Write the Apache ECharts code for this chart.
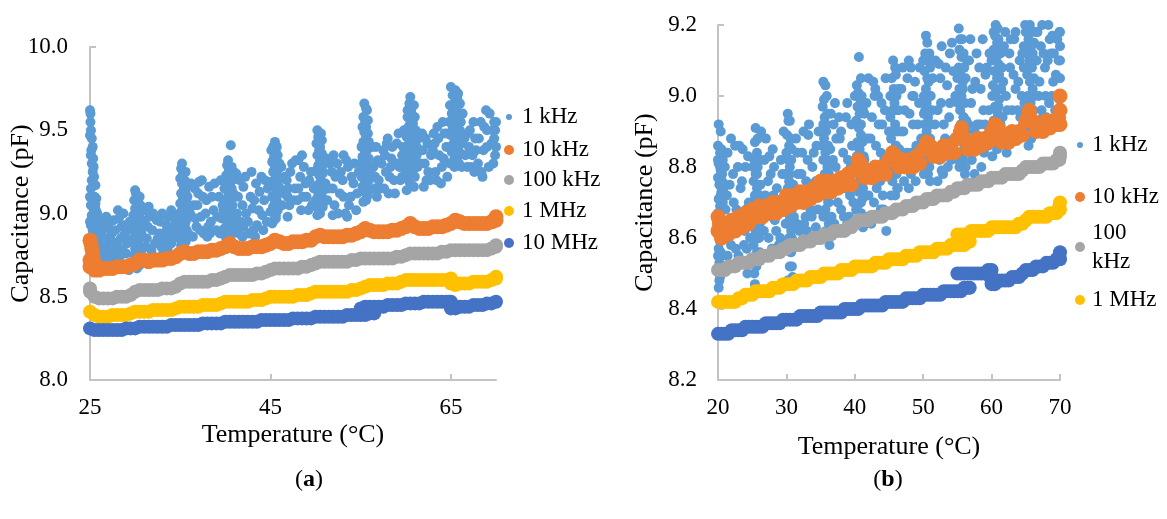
<!DOCTYPE html>
<html><head><meta charset="utf-8">
<script src="https://cdn.jsdelivr.net/npm/echarts@6/dist/echarts.min.js"></script>
<style>html,body{margin:0;padding:0;background:#fff}#c{width:1167px;height:519px}</style>
</head><body><div id="c"></div>
<script>
// ---------- data ----------
const seriesNames = ['1 kHz', '10 kHz', '100 kHz', '1 MHz', '10 MHz'];
const xTicksA = [25, 45, 65];

// panel (a) temperatures for the narrow bands
const tA = [25,25.5,26,26.5,27,27.5,28,28.5,29,29.5,
  30,30.5,31,31.5,32,32.5,33,33.5,34,34.5,
  35,35.5,36,36.5,37,37.5,38,38.5,39,39.5,
  40,40.5,41,41.5,42,42.5,43,43.5,44,44.5,
  45,45.5,46,46.5,47,47.5,48,48.5,49,49.5,
  50,50.5,51,51.5,52,52.5,53,53.5,54,54.5,
  55,55.5,56,56.5,57,57.5,58,58.5,59,59.5,
  60,60.5,61,61.5,62,62.5,63,63.5,64,64.5,
  65,65.5,66,66.5,67,67.5,68,68.5,69,69.5,70];
const c10kA = [8.68,8.66,8.66,8.67,8.67,8.67,8.68,8.68,8.68,8.69,
  8.70,8.72,8.72,8.71,8.72,8.72,8.72,8.73,8.73,8.74,
  8.76,8.77,8.76,8.76,8.77,8.77,8.77,8.78,8.78,8.79,
  8.80,8.82,8.80,8.79,8.79,8.79,8.80,8.80,8.80,8.81,
  8.82,8.84,8.83,8.82,8.82,8.83,8.83,8.83,8.84,8.84,
  8.86,8.87,8.86,8.86,8.86,8.86,8.86,8.87,8.87,8.88,
  8.89,8.91,8.90,8.89,8.89,8.89,8.89,8.90,8.90,8.91,
  8.92,8.94,8.92,8.91,8.91,8.91,8.92,8.92,8.92,8.93,
  8.94,8.96,8.95,8.94,8.94,8.94,8.94,8.94,8.94,8.95,8.96];
const c10kAExtra = [[25,8.84],[25.1,8.82],[25.2,8.79],[25.3,8.76],[25.4,8.72],[25.6,8.69],[25,8.72],[25.2,8.70],[70,8.98]];
const c100kA = [8.53,8.50,8.49,8.49,8.49,8.49,8.50,8.50,8.50,8.51,
  8.53,8.54,8.54,8.54,8.54,8.54,8.55,8.55,8.55,8.56,
  8.58,8.59,8.59,8.59,8.59,8.59,8.59,8.60,8.60,8.61,
  8.62,8.63,8.63,8.63,8.63,8.63,8.63,8.64,8.64,8.65,
  8.66,8.67,8.67,8.67,8.67,8.67,8.67,8.68,8.68,8.69,
  8.70,8.71,8.71,8.71,8.71,8.71,8.71,8.71,8.72,8.72,
  8.73,8.73,8.73,8.73,8.73,8.73,8.73,8.73,8.74,8.74,
  8.75,8.76,8.76,8.76,8.76,8.76,8.76,8.76,8.77,8.77,
  8.78,8.78,8.78,8.78,8.78,8.78,8.78,8.78,8.78,8.79,8.80];
const c100kAExtra = [[25,8.55],[70,8.81]];
const c1MA = [8.41,8.39,8.38,8.38,8.38,8.39,8.39,8.39,8.39,8.40,
  8.41,8.41,8.41,8.41,8.42,8.42,8.42,8.42,8.42,8.43,
  8.44,8.44,8.44,8.44,8.44,8.45,8.45,8.45,8.45,8.46,
  8.47,8.47,8.47,8.47,8.47,8.47,8.48,8.48,8.48,8.49,
  8.50,8.50,8.50,8.50,8.50,8.50,8.51,8.51,8.51,8.52,
  8.53,8.53,8.53,8.53,8.53,8.53,8.53,8.53,8.54,8.54,
  8.55,8.56,8.57,8.57,8.57,8.57,8.58,8.58,8.58,8.59,
  8.60,8.60,8.60,8.60,8.60,8.60,8.60,8.60,8.60,8.60,
  8.58,8.57,8.58,8.58,8.58,8.59,8.59,8.59,8.59,8.60,8.61];
const c1MAExtra = [[65,8.61],[64.8,8.60],[70,8.62]];
const c10MA = [8.31,8.30,8.30,8.30,8.30,8.30,8.30,8.30,8.31,8.31,
  8.31,8.32,8.32,8.32,8.32,8.32,8.32,8.32,8.33,8.33,
  8.33,8.33,8.33,8.33,8.33,8.34,8.34,8.34,8.34,8.34,
  8.35,8.35,8.35,8.35,8.35,8.35,8.35,8.35,8.36,8.36,
  8.36,8.36,8.36,8.36,8.36,8.37,8.37,8.37,8.37,8.37,
  8.38,8.38,8.38,8.38,8.38,8.38,8.38,8.39,8.39,8.39,
  8.43,8.44,8.44,8.44,8.44,8.44,8.45,8.45,8.45,8.45,
  8.46,8.46,8.46,8.46,8.47,8.47,8.47,8.47,8.47,8.47,
  8.43,8.43,8.44,8.44,8.44,8.45,8.45,8.45,8.46,8.46,8.47];
const c10MAExtra = [[55,8.39],[55.5,8.39],[56,8.40],[56.5,8.40],[64.8,8.47],[65,8.47]];
// panel (a) 1 kHz scattered points [temperature, capacitance]
const c1kA = [
  [25.0,9.62],[25.05,9.60],[25.1,9.50],[25.0,9.47],[25.2,9.45],[25.3,9.40],[25.15,9.38],[25.35,9.33],[25.2,9.30],[25.4,9.28],
  [25.45,9.22],[25.6,9.17],[25.5,9.10],[25.7,9.09],[25.3,9.07],[25.1,9.05],[25.6,9.03],[25.4,9.00],[25.2,8.98],[25.5,8.96],
  [25.1,8.93],[25.7,8.92],[25.3,8.90],[25.5,8.88],[25.2,8.86],[25.6,8.85],[25.1,8.82],[25.4,8.80],[25.8,8.79],[25.3,8.77],
  [25.6,8.75],[25.2,8.73],[25.0,8.70],[25.5,8.72],[25.9,8.84],[26.0,8.96],[25.8,9.00],[25.0,9.10],[25.0,8.95],[25.0,8.80],
  [26.3,8.86],[26.6,8.80],[26.9,8.92],[27.2,8.95],[27.0,8.75],[27.5,8.83],[27.8,8.90],[27.9,8.72],[28.2,8.97],[28.4,8.85],
  [28.6,8.78],[28.9,8.93],[29.1,8.82],[29.3,8.66],[26.1,8.72],[27.4,8.88],[28.0,8.81],[26.5,8.94],[28.1,9.02],
  [30.0,9.14],[30.1,9.12],[29.9,9.08],[30.2,9.06],[30.0,9.03],[30.3,9.01],[29.8,8.99],[30.1,8.97],[30.4,8.95],[29.9,8.93],
  [30.2,8.91],[30.0,8.89],[30.3,8.87],[29.8,8.85],[30.1,8.83],[30.4,8.81],[30.0,8.79],[30.2,8.77],[29.9,8.75],[30.3,8.73],
  [30.1,8.71],[30.5,9.03],[30.6,8.90],[30.7,8.78],
  [31.0,8.95],[31.3,8.85],[31.6,8.98],[31.9,8.90],[32.2,8.82],[32.4,8.96],[32.7,8.88],[33.0,9.00],[33.2,8.84],[33.5,8.93],
  [33.8,8.87],[34.0,9.02],[34.3,8.91],[31.5,9.04],[32.9,8.80],[34.5,8.95],
  [35.2,9.30],[35.1,9.27],[35.3,9.24],[35.0,9.21],[35.2,9.18],[35.4,9.15],[35.1,9.12],[35.3,9.09],[35.0,9.06],[35.5,9.04],
  [35.2,9.02],[35.4,8.99],[35.1,8.97],[35.6,8.95],[35.3,8.93],[35.0,8.91],[35.5,8.89],[35.2,8.87],[35.7,8.85],[35.4,8.83],
  [35.1,8.81],[35.8,9.10],[35.9,8.98],[34.9,9.00],
  [36.2,9.18],[36.5,9.05],[36.8,8.92],[37.0,9.12],[37.3,8.98],[37.6,8.88],[37.9,9.08],[38.2,9.16],[38.4,8.95],[38.7,9.02],
  [39.0,8.90],[39.3,9.10],[39.6,8.97],[36.4,8.86],[38.0,8.86],[37.1,9.19],
  [40.6,9.41],[40.3,9.32],[40.2,9.29],[40.4,9.26],[40.1,9.23],[40.3,9.20],[40.5,9.17],[40.2,9.14],[40.4,9.11],[40.0,9.08],
  [40.3,9.05],[40.6,9.03],[40.1,9.00],[40.4,8.98],[40.2,8.95],[40.7,8.93],[39.9,8.91],[40.3,8.89],[40.5,8.87],[40.1,8.85],
  [40.8,9.10],[39.8,9.02],
  [41.2,9.24],[41.4,9.10],[41.7,8.95],[42.0,9.16],[42.3,9.00],[42.6,8.88],[42.9,9.25],[43.2,9.08],[43.5,8.93],[43.8,9.13],
  [44.1,8.99],[44.4,9.20],[41.9,8.86],[43.0,9.03],[44.2,8.90],
  [45.5,9.43],[45.3,9.40],[45.6,9.37],[45.4,9.34],[45.2,9.31],[45.5,9.28],[45.3,9.25],[45.6,9.22],[45.1,9.19],[45.4,9.16],
  [45.7,9.13],[45.2,9.10],[45.5,9.07],[45.3,9.04],[45.0,9.01],[45.6,8.99],[45.4,8.96],[45.2,8.94],[45.8,9.20],[45.9,9.05],
  [46.2,9.28],[46.5,9.12],[46.8,9.20],[47.1,9.05],[47.4,9.30],[47.7,9.15],[48.0,9.08],[48.3,9.22],[48.6,9.10],[48.9,9.18],
  [49.2,9.02],[49.5,9.25],[46.9,8.98],[48.1,9.32],
  [50.2,9.50],[50.3,9.46],[50.1,9.42],[50.4,9.38],[50.2,9.35],[50.5,9.32],[50.3,9.29],[50.1,9.26],[50.4,9.23],[50.6,9.20],
  [50.2,9.17],[50.5,9.14],[50.3,9.11],[50.0,9.08],[50.6,9.05],[50.4,9.02],[50.2,8.99],[50.7,9.10],[50.8,9.25],
  [51.2,9.33],[51.5,9.15],[51.8,9.25],[52.1,9.05],[52.4,9.30],[52.7,9.12],[53.0,9.20],[53.3,9.00],[53.6,9.28],[53.9,9.10],
  [54.2,9.18],[54.5,9.02],[51.9,8.99],[53.1,9.35],
  [55.4,9.66],[55.6,9.63],[55.3,9.58],[55.5,9.55],[55.2,9.52],[55.4,9.49],[55.6,9.46],[55.3,9.43],[55.1,9.40],[55.5,9.37],
  [55.2,9.34],[55.4,9.31],[55.6,9.28],[55.3,9.25],[55.1,9.22],[55.5,9.19],[55.2,9.16],[55.4,9.13],[55.7,9.10],[55.3,9.07],
  [55.8,9.30],[55.9,9.20],
  [56.3,9.40],[56.6,9.22],[56.9,9.32],[57.2,9.15],[57.5,9.38],[57.8,9.25],[58.1,9.12],[58.4,9.33],[58.7,9.20],[59.0,9.42],
  [59.3,9.28],[56.8,9.10],[58.0,9.45],[59.6,9.35],
  [60.5,9.70],[60.4,9.66],[60.6,9.62],[60.2,9.58],[60.5,9.55],[60.3,9.52],[60.7,9.49],[60.1,9.46],[60.4,9.43],[60.6,9.40],
  [60.2,9.37],[60.5,9.34],[60.8,9.31],[60.3,9.28],[60.0,9.25],[60.6,9.22],[60.4,9.19],[60.9,9.16],[59.8,9.50],[61.0,9.45],
  [61.2,9.35],[60.1,9.14],[59.9,9.30],
  [61.8,9.48],[62.1,9.30],[62.4,9.42],[62.7,9.20],[63.0,9.38],[63.3,9.25],[63.6,9.45],[63.9,9.18],[64.2,9.33],[64.5,9.40],
  [62.0,9.16],[63.5,9.52],
  [65.0,9.76],[65.5,9.74],[65.2,9.71],[65.7,9.69],[65.3,9.66],[65.6,9.63],[65.1,9.60],[65.4,9.58],[65.8,9.55],[65.2,9.52],
  [65.5,9.50],[65.0,9.47],[65.7,9.45],[65.3,9.42],[65.6,9.40],[65.1,9.37],[65.9,9.35],[65.4,9.33],[64.9,9.30],[66.0,9.50],
  [66.2,9.42],[64.8,9.55],
  [66.6,9.35],[66.9,9.48],[67.2,9.28],[67.5,9.55],[67.8,9.38],[68.1,9.45],[68.4,9.25],[68.7,9.52],[69.0,9.40],[69.3,9.60],
  [69.6,9.50],[69.8,9.45],[69.9,9.35],[70.0,9.55],[69.7,9.30],[68.9,9.62],[67.0,9.40]
];
const c1kA2 = [
  [25.4,9.08],[25.6,9.06],[25.3,9.04],[25.7,9.01],[25.2,8.99],[25.5,8.97],[25.8,8.95],[25.3,8.94],[25.6,8.91],[25.4,8.89],
  [25.7,8.87],[25.2,8.84],[25.5,8.83],[25.8,8.81],[25.3,8.79],[25.6,8.78],[25.4,8.76],[25.7,8.74],[25.2,8.71],[25.5,8.68],
  [25.3,8.66],[25.1,9.15],[25.2,9.20],[25.3,9.25],[25.1,9.35],[25.05,9.55],
  [26.2,8.78],[26.4,8.90],[26.7,8.74],[27.0,8.85],[27.3,8.79],[27.6,8.96],[27.7,8.76],[28.3,8.74],[28.5,8.92],[28.8,8.87],
  [29.0,8.76],[29.4,8.95],[26.8,8.98],[27.3,8.70],[28.7,9.00],[29.5,8.84],[26.0,8.84],[29.2,8.90],
  [30.5,9.10],[30.6,9.05],[30.4,9.00],[30.6,8.97],[30.5,8.92],[30.7,8.88],[30.5,8.85],[30.6,8.80],[30.4,8.76],[30.7,8.72],
  [30.5,8.69],[30.2,8.67],[29.9,8.70],[30.3,9.10],
  [31.2,8.80],[31.4,8.92],[31.8,8.78],[32.0,9.00],[32.5,8.85],[32.8,8.95],[33.1,8.76],[33.4,8.89],[33.7,8.98],[34.0,8.82],
  [34.2,8.98],[34.6,8.86],[31.1,9.02],[32.1,8.74],[33.6,8.79],
  [35.6,9.25],[35.5,9.20],[35.7,9.16],[35.6,9.12],[35.4,9.08],[35.7,9.05],[35.6,9.00],[35.8,8.97],[35.5,8.93],[35.7,8.90],
  [35.4,8.86],[35.6,8.83],[35.9,8.88],[36.0,9.05],[34.9,8.85],
  [36.1,9.00],[36.6,9.15],[36.9,9.05],[37.2,8.90],[37.5,9.10],[37.8,9.00],[38.1,8.92],[38.5,9.10],[38.8,9.18],[39.1,8.98],
  [39.4,8.88],[39.7,9.05],[36.7,8.97],[37.4,9.20],[38.3,8.88],[39.5,9.20],
  [40.7,9.28],[40.6,9.24],[40.8,9.20],[40.7,9.15],[40.9,9.12],[40.6,9.08],[40.8,9.05],[40.7,9.00],[40.9,8.96],[40.6,8.92],
  [40.8,8.88],[40.4,8.86],[41.0,8.92],[40.9,9.25],[39.9,9.15],
  [41.3,9.00],[41.6,9.20],[41.9,9.05],[42.2,9.22],[42.5,8.95],[42.8,9.10],[43.1,8.90],[43.4,9.18],[43.7,9.02],[44.0,9.22],
  [44.3,9.08],[44.6,8.95],[42.0,8.92],[43.3,8.86],[44.7,9.15],[41.5,8.88],
  [45.7,9.40],[45.8,9.35],[45.6,9.31],[45.9,9.27],[45.7,9.24],[45.8,9.18],[45.6,9.15],[45.9,9.12],[45.7,9.08],[45.8,9.02],
  [45.6,8.97],[46.0,9.30],[46.1,9.15],[45.1,9.38],
  [46.3,9.05],[46.6,9.22],[46.9,9.10],[47.2,9.25],[47.5,9.08],[47.8,9.32],[48.1,9.15],[48.4,9.02],[48.7,9.28],[49.0,9.10],
  [49.3,9.20],[49.6,9.05],[47.0,9.15],[48.5,9.35],[49.8,9.15],
  [50.6,9.48],[50.7,9.44],[50.5,9.40],[50.7,9.36],[50.8,9.32],[50.6,9.28],[50.8,9.24],[50.7,9.18],[50.9,9.14],[50.6,9.08],
  [50.8,9.04],[50.5,9.00],[50.1,9.04],[51.0,9.30],[51.1,9.18],
  [51.3,9.08],[51.6,9.30],[51.9,9.15],[52.2,9.22],[52.5,9.00],[52.8,9.25],[53.1,9.10],[53.4,9.32],[53.7,9.05],[54.0,9.22],
  [54.3,9.30],[54.6,9.12],[52.0,9.35],[53.5,8.98],[54.8,9.25],
  [55.7,9.62],[55.8,9.56],[55.6,9.52],[55.8,9.48],[55.9,9.43],[55.7,9.38],[55.9,9.33],[55.7,9.27],[55.9,9.22],[55.6,9.17],
  [55.8,9.12],[55.6,9.08],[56.0,9.40],[56.1,9.25],[55.0,9.30],
  [56.4,9.28],[56.7,9.40],[57.0,9.20],[57.3,9.30],[57.6,9.15],[57.9,9.42],[58.2,9.22],[58.5,9.40],[58.8,9.12],[59.1,9.30],
  [59.4,9.20],[56.5,9.15],[57.7,9.35],[58.3,9.28],[59.2,9.48],
  [60.9,9.65],[61.0,9.58],[60.8,9.54],[61.1,9.50],[60.9,9.44],[61.2,9.40],[60.9,9.36],[61.1,9.30],[60.8,9.26],[61.0,9.22],
  [61.3,9.28],[59.7,9.40],[59.6,9.22],[61.4,9.45],[60.2,9.62],
  [61.6,9.30],[61.9,9.38],[62.2,9.45],[62.5,9.25],[62.8,9.35],[63.1,9.48],[63.4,9.20],[63.7,9.35],[64.0,9.28],[64.3,9.48],
  [64.6,9.22],[62.3,9.20],[63.2,9.42],[64.1,9.55],
  [65.8,9.72],[66.0,9.66],[65.9,9.60],[66.1,9.55],[65.8,9.50],[66.0,9.46],[65.8,9.40],[66.1,9.36],[65.9,9.30],[66.2,9.28],
  [64.7,9.40],[64.6,9.48],[66.3,9.60],[64.9,9.65],[65.4,9.28],
  [66.5,9.45],[66.8,9.28],[67.1,9.50],[67.4,9.35],[67.7,9.45],[68.0,9.30],[68.3,9.55],[68.6,9.38],[69.0,9.50],[69.2,9.28],
  [69.5,9.42],[69.8,9.55],[70.0,9.40],[69.9,9.50],[67.6,9.25],[68.5,9.22]
];

// panel (b) temperatures for the narrow bands
const tB = [20,20.5,21,21.5,22,22.5,23,23.5,24,24.5,
  25,25.5,26,26.5,27,27.5,28,28.5,29,29.5,
  30,30.5,31,31.5,32,32.5,33,33.5,34,34.5,
  35,35.5,36,36.5,37,37.5,38,38.5,39,39.5,
  40,40.5,41,41.5,42,42.5,43,43.5,44,44.5,
  45,45.5,46,46.5,47,47.5,48,48.5,49,49.5,
  50,50.5,51,51.5,52,52.5,53,53.5,54,54.5,
  55,55.5,56,56.5,57,57.5,58,58.5,59,59.5,
  60,60.5,61,61.5,62,62.5,63,63.5,64,64.5,
  65,65.5,66,66.5,67,67.5,68,68.5,69,69.5,70];
const c10kB = [8.66,8.60,8.64,8.61,8.65,8.62,8.66,8.63,8.67,8.64,
  8.68,8.66,8.69,8.66,8.69,8.67,8.70,8.67,8.70,8.68,
  8.72,8.69,8.72,8.70,8.73,8.70,8.73,8.71,8.74,8.72,
  8.76,8.73,8.76,8.73,8.76,8.74,8.77,8.75,8.78,8.75,
  8.79,8.82,8.80,8.77,8.79,8.77,8.80,8.78,8.80,8.78,
  8.82,8.84,8.83,8.80,8.82,8.80,8.82,8.80,8.83,8.81,
  8.85,8.87,8.86,8.83,8.85,8.83,8.86,8.84,8.86,8.84,
  8.88,8.90,8.88,8.85,8.87,8.85,8.88,8.86,8.88,8.87,
  8.90,8.92,8.91,8.87,8.89,8.87,8.90,8.88,8.90,8.89,
  8.93,8.95,8.93,8.90,8.92,8.90,8.93,8.91,8.93,8.92,8.96];
const c10kBExtra = [[70,9.00],[70,8.92],[69.8,8.94],[40.8,8.81],[55.6,8.91],[65.5,8.96],[20,8.62],[20.2,8.64]];
const c100kB = [8.51,8.51,8.51,8.52,8.52,8.52,8.53,8.53,8.53,8.53,
  8.54,8.54,8.54,8.55,8.55,8.55,8.56,8.56,8.56,8.57,
  8.57,8.58,8.58,8.58,8.58,8.59,8.59,8.59,8.60,8.60,
  8.60,8.61,8.61,8.61,8.62,8.62,8.62,8.62,8.63,8.63,
  8.64,8.65,8.65,8.65,8.65,8.66,8.66,8.66,8.66,8.67,
  8.67,8.67,8.68,8.68,8.68,8.69,8.69,8.69,8.70,8.70,
  8.70,8.71,8.71,8.71,8.72,8.72,8.72,8.72,8.73,8.73,
  8.74,8.74,8.74,8.75,8.75,8.75,8.75,8.76,8.76,8.76,
  8.77,8.77,8.77,8.77,8.78,8.78,8.78,8.78,8.78,8.79,
  8.80,8.80,8.80,8.80,8.80,8.81,8.81,8.81,8.81,8.82,8.83];
const c100kBExtra = [[70,8.84],[69.9,8.82]];
const c1MB = [8.42,8.42,8.42,8.42,8.42,8.42,8.43,8.43,8.44,8.44,
  8.44,8.45,8.45,8.45,8.45,8.45,8.46,8.46,8.46,8.47,
  8.47,8.47,8.47,8.48,8.48,8.48,8.48,8.49,8.49,8.49,
  8.49,8.50,8.50,8.50,8.50,8.50,8.51,8.51,8.51,8.51,
  8.52,8.52,8.52,8.52,8.52,8.52,8.53,8.53,8.53,8.53,
  8.54,8.54,8.54,8.54,8.54,8.55,8.55,8.55,8.55,8.56,
  8.56,8.56,8.56,8.56,8.57,8.57,8.57,8.57,8.58,8.58,
  8.61,8.61,8.61,8.61,8.62,8.62,8.62,8.62,8.62,8.62,
  8.63,8.63,8.63,8.63,8.63,8.63,8.63,8.63,8.64,8.64,
  8.65,8.66,8.66,8.66,8.66,8.66,8.66,8.67,8.67,8.67,8.68];
const c1MBExtra = [[55,8.58],[55.5,8.58],[56,8.58],[56.5,8.59],[56.8,8.59],[70,8.70],[69.9,8.69]];
const c10MB = [8.33,8.33,8.33,8.33,8.34,8.34,8.34,8.34,8.35,8.35,
  8.35,8.35,8.35,8.35,8.36,8.36,8.36,8.36,8.36,8.37,
  8.37,8.37,8.37,8.37,8.38,8.38,8.38,8.38,8.38,8.38,
  8.39,8.39,8.39,8.39,8.39,8.39,8.39,8.40,8.40,8.40,
  8.40,8.40,8.41,8.41,8.41,8.41,8.41,8.41,8.41,8.42,
  8.42,8.42,8.42,8.42,8.42,8.43,8.43,8.43,8.43,8.43,
  8.44,8.44,8.44,8.44,8.44,8.44,8.45,8.45,8.45,8.45,
  8.50,8.50,8.50,8.50,8.50,8.50,8.50,8.50,8.50,8.51,
  8.47,8.47,8.48,8.48,8.48,8.48,8.49,8.49,8.49,8.50,
  8.51,8.51,8.51,8.52,8.52,8.52,8.53,8.53,8.53,8.54,8.54];
const c10MBExtra = [[55,8.45],[55.5,8.45],[56,8.46],[56.5,8.46],[56.8,8.46],[60,8.51],[59.8,8.49],[60,8.49],[70,8.56],[69.9,8.55]];
// panel (b) 1 kHz scattered points
const c1kB = [
  [20.1,8.92],[20.0,8.86],[20.3,8.84],[20.1,8.81],[20.4,8.79],[20.0,8.77],[20.2,8.75],[20.5,8.73],[20.1,8.71],[20.3,8.69],
  [20.0,8.67],[20.4,8.65],[20.2,8.63],[20.0,8.61],[20.3,8.59],[20.1,8.57],[20.5,8.55],[20.2,8.53],[20.0,8.51],[20.3,8.49],
  [20.1,8.46],[20.6,8.78],[20.7,8.70],[20.6,8.62],
  [21.0,8.80],[21.3,8.72],[21.6,8.65],[21.9,8.58],[22.2,8.78],[22.5,8.86],[22.7,8.68],[23.0,8.55],[23.3,8.74],[23.6,8.85],
  [23.9,8.62],[24.2,8.57],[24.5,8.70],[21.4,8.55],[22.9,8.62],[24.0,8.80],[21.8,8.52],[23.5,8.53],
  [25.5,8.91],[26.3,8.90],[25.4,8.87],[25.7,8.84],[25.3,8.82],[25.8,8.80],[25.5,8.78],[25.2,8.76],[25.7,8.74],[25.4,8.72],
  [25.9,8.70],[25.6,8.68],[25.3,8.66],[25.8,8.64],[25.5,8.62],[26.0,8.60],[25.2,8.58],[25.7,8.56],[25.4,8.54],[26.2,8.75],
  [26.4,8.65],[25.0,8.70],[25.4,8.47],
  [26.8,8.82],[27.1,8.70],[27.4,8.60],[27.7,8.78],[28.0,8.85],[28.3,8.65],[28.6,8.74],[28.9,8.58],[29.2,8.82],[29.5,8.68],
  [27.0,8.55],[28.2,8.56],[29.0,8.46],[27.9,8.66],
  [30.2,8.95],[30.3,8.93],[30.1,8.89],[30.4,8.86],[30.0,8.84],[30.3,8.82],[30.5,8.80],[30.1,8.78],[30.4,8.76],[30.2,8.74],
  [30.6,8.72],[30.0,8.70],[30.3,8.68],[30.5,8.66],[30.2,8.64],[30.7,8.62],[30.4,8.60],[30.1,8.58],[30.6,8.56],[30.8,8.52],
  [30.9,8.49],[31.0,8.75],[30.8,8.85],
  [31.4,8.88],[31.7,8.78],[32.0,8.70],[32.3,8.84],[32.6,8.64],[32.9,8.76],[33.2,8.89],[33.5,8.68],[33.8,8.80],[34.1,8.72],
  [34.4,8.86],[31.9,8.62],[33.0,8.62],[34.3,8.63],
  [35.4,9.04],[35.7,9.03],[35.5,8.99],[35.3,8.97],[35.6,8.94],[35.4,8.92],[35.8,8.90],[35.5,8.88],[35.2,8.86],[35.7,8.84],
  [35.4,8.82],[36.0,8.80],[35.6,8.78],[35.3,8.76],[35.9,8.74],[35.5,8.72],[36.1,8.70],[35.7,8.68],[35.4,8.66],[36.2,8.64],
  [35.8,8.62],[36.3,8.58],[36.5,8.95],[36.4,8.85],
  [36.9,8.92],[37.2,8.80],[37.5,8.70],[37.8,8.88],[38.1,8.76],[38.4,8.66],[38.7,8.94],[39.0,8.82],[39.3,8.72],[39.6,8.86],
  [37.0,8.64],[38.9,8.64],[38.0,8.90],
  [40.6,9.11],[40.3,9.03],[40.5,9.01],[40.8,8.99],[40.4,8.97],[40.7,8.95],[40.2,8.93],[40.6,8.91],[40.9,8.89],[40.4,8.87],
  [40.7,8.85],[40.3,8.83],[41.0,8.81],[40.5,8.79],[40.8,8.77],[40.2,8.75],[40.6,8.73],[41.1,8.71],[40.4,8.69],[40.9,8.67],
  [40.5,8.65],[41.2,8.63],[41.4,8.95],[41.5,8.72],
  [42.0,9.05],[41.8,8.88],[42.2,8.78],[42.5,8.94],[42.8,8.70],[43.1,8.86],[43.4,9.00],[43.7,8.76],[44.0,8.92],[44.3,8.82],
  [42.4,8.64],[43.8,8.68],[44.6,8.62],[43.0,9.02],[44.5,9.05],
  [45.6,9.10],[45.9,9.08],[45.4,9.05],[45.7,9.02],[45.3,9.00],[45.8,8.98],[45.5,8.96],[45.2,8.94],[45.9,8.92],[45.6,8.90],
  [45.3,8.88],[46.0,8.86],[45.7,8.84],[45.4,8.82],[46.1,8.80],[45.8,8.78],[45.5,8.76],[46.2,8.74],[45.9,8.72],[46.4,8.96],
  [46.5,8.85],
  [46.8,9.02],[47.1,8.90],[47.4,8.80],[47.7,9.05],[48.0,8.95],[48.3,8.84],[48.6,9.00],[48.9,8.76],[49.2,8.92],[49.5,9.08],
  [47.9,8.74],[49.0,8.86],[48.2,9.08],
  [50.4,9.17],[50.6,9.15],[50.3,9.12],[50.5,9.10],[50.2,9.07],[50.6,9.05],[50.4,9.02],[50.1,9.00],[50.5,8.98],[50.3,8.96],
  [50.7,8.94],[50.2,8.92],[50.5,8.90],[50.8,8.88],[50.3,8.86],[50.6,8.84],[50.9,8.82],[50.4,8.80],[50.7,8.78],[51.0,8.76],
  [50.1,8.95],[51.0,9.00],
  [51.4,9.05],[51.7,8.92],[52.0,8.84],[52.3,9.09],[52.6,8.98],[52.9,8.78],[53.2,8.88],[53.5,9.03],[53.8,8.94],[54.1,8.82],
  [54.4,9.07],[52.1,8.76],[52.7,8.79],[53.9,9.12],
  [55.2,9.19],[55.4,9.16],[55.3,9.13],[55.6,9.11],[55.2,9.08],[55.5,9.06],[55.8,9.04],[55.3,9.02],[55.6,9.00],[55.1,8.98],
  [55.4,8.96],[55.9,8.94],[55.5,8.92],[55.2,8.90],[55.7,8.88],[56.0,8.86],[55.4,8.84],[55.8,8.82],[55.3,8.80],[56.1,8.78],
  [56.2,9.05],[56.3,8.93],
  [56.7,9.10],[57.0,8.98],[57.3,8.86],[57.6,9.04],[57.9,8.92],[58.2,9.08],[58.5,8.80],[58.8,8.96],[59.1,9.06],[59.4,8.88],
  [59.7,9.12],[57.5,8.78],[58.9,8.84],
  [60.6,9.20],[60.9,9.19],[60.5,9.17],[60.8,9.15],[60.3,9.13],[60.7,9.11],[61.0,9.09],[60.4,9.07],[60.8,9.05],[60.2,9.03],
  [60.6,9.01],[61.1,8.99],[60.5,8.97],[60.9,8.95],[60.3,8.93],[60.7,8.91],[61.2,8.89],[60.4,8.87],[60.8,8.85],[61.3,9.12],
  [61.4,9.02],[60.1,8.83],
  [61.8,9.14],[62.1,9.00],[62.4,8.90],[62.7,9.08],[63.0,8.96],[63.3,9.16],[63.6,8.88],[63.9,9.04],[64.2,8.94],[64.5,9.12],
  [62.2,8.84],[63.5,9.02],
  [65.2,9.21],[65.6,9.20],[65.9,9.21],[65.0,9.18],[65.4,9.16],[65.8,9.14],[65.1,9.12],[65.5,9.10],[65.9,9.08],[65.2,9.06],
  [65.6,9.04],[66.0,9.02],[65.3,9.00],[65.7,8.98],[65.0,8.96],[65.5,8.94],[66.1,8.92],[65.2,8.90],[65.8,8.88],[65.4,8.86],
  [64.7,9.08],[66.2,9.15],
  [66.6,9.10],[66.9,9.00],[67.2,9.14],[67.5,8.94],[67.8,9.08],[68.3,9.20],[68.4,8.98],[68.7,9.12],[69.0,9.04],[69.3,8.96],
  [69.6,9.16],[69.9,9.18],[70.0,9.10],[70.0,9.05],[69.9,8.99],[70.0,9.14],[67.1,8.91],[68.9,9.17]
];
const c1kB2 = [
  [20.4,8.90],[20.5,8.85],[20.3,8.80],[20.6,8.76],[20.4,8.72],[20.6,8.68],[20.3,8.64],[20.5,8.60],[20.4,8.56],[20.6,8.52],
  [20.2,8.48],[20.7,8.82],[20.8,8.74],[20.0,8.82],[20.0,8.55],
  [21.1,8.68],[21.4,8.84],[21.7,8.75],[22.0,8.62],[22.3,8.70],[22.6,8.57],[22.9,8.80],[23.2,8.65],[23.5,8.76],[23.8,8.58],
  [24.1,8.68],[24.4,8.83],[21.2,8.60],[22.4,8.52],[23.1,8.86],[24.3,8.50],[21.9,8.88],[24.7,8.60],
  [25.8,8.88],[25.9,8.82],[25.7,8.78],[26.0,8.72],[25.8,8.68],[26.1,8.64],[25.9,8.60],[26.1,8.56],[25.6,8.52],[25.3,8.50],
  [26.2,8.82],[26.3,8.70],[25.1,8.80],[25.0,8.60],
  [26.7,8.62],[27.0,8.88],[27.3,8.76],[27.6,8.68],[27.9,8.57],[28.2,8.80],[28.5,8.62],[28.8,8.70],[29.1,8.60],[29.4,8.78],
  [26.9,8.72],[28.1,8.72],[29.6,8.90],[27.5,8.83],
  [30.5,8.93],[30.6,8.88],[30.7,8.82],[30.5,8.78],[30.7,8.74],[30.8,8.68],[30.6,8.64],[30.8,8.60],[30.7,8.56],[30.5,8.52],
  [29.9,8.78],[29.9,8.64],[30.2,8.48],[31.1,8.66],
  [31.3,8.72],[31.6,8.84],[31.9,8.70],[32.2,8.78],[32.5,8.90],[32.8,8.66],[33.1,8.82],[33.4,8.74],[33.7,8.66],[34.0,8.84],
  [34.3,8.76],[34.6,8.68],[31.5,8.64],[33.3,8.92],[34.7,8.90],
  [35.9,9.00],[36.0,8.95],[35.8,8.92],[36.1,8.86],[35.9,8.82],[36.2,8.78],[36.0,8.74],[36.2,8.70],[35.9,8.66],[36.1,8.62],
  [35.2,8.72],[35.1,8.90],[36.4,8.75],[36.6,8.66],
  [36.8,8.82],[37.1,8.98],[37.4,8.76],[37.7,8.94],[38.0,8.68],[38.3,8.84],[38.6,8.74],[38.9,8.98],[39.2,8.66],[39.5,8.92],
  [37.3,8.88],[38.2,8.62],[39.4,8.80],[39.8,8.70],
  [40.9,9.05],[41.0,9.00],[41.2,8.96],[40.9,8.92],[41.1,8.87],[41.3,8.83],[41.0,8.78],[41.2,8.74],[40.9,8.70],[41.1,8.66],
  [40.2,8.68],[40.1,8.86],[41.4,8.82],[40.0,9.00],
  [41.7,8.98],[42.0,8.72],[42.3,8.88],[42.6,8.80],[42.9,9.00],[43.2,8.74],[43.5,8.92],[43.8,8.84],[44.1,8.72],[44.4,8.96],
  [42.7,9.04],[43.9,8.98],[41.9,8.66],[44.2,8.68],
  [46.0,9.06],[46.1,9.00],[45.9,8.96],[46.2,8.90],[46.0,8.86],[46.3,8.82],[46.1,8.78],[46.3,8.74],[45.3,8.72],[45.1,8.80],
  [45.2,9.00],[46.4,9.02],[45.0,8.90],
  [46.7,8.90],[47.0,9.08],[47.3,8.96],[47.6,8.84],[47.9,9.10],[48.2,8.78],[48.5,8.92],[48.8,9.04],[49.1,8.80],[49.4,8.98],
  [47.2,8.76],[48.4,9.00],[49.7,8.88],[46.9,8.80],
  [50.9,9.12],[51.0,9.08],[50.8,9.04],[51.1,9.00],[50.9,8.96],[51.1,8.92],[51.0,8.88],[51.2,8.84],[50.9,8.80],[50.2,8.82],
  [50.1,8.78],[50.0,9.10],[51.3,8.96],
  [51.5,8.86],[51.8,9.10],[52.1,8.96],[52.4,8.82],[52.7,9.14],[53.0,8.92],[53.3,9.08],[53.6,8.80],[53.9,8.98],[54.2,9.15],
  [54.5,8.88],[52.5,9.05],[53.8,8.84],[54.7,9.00],
  [55.7,9.16],[55.9,9.12],[56.0,9.08],[55.8,9.02],[56.1,8.98],[55.9,8.94],[56.2,8.90],[56.0,8.84],[56.2,8.80],[55.2,8.82],
  [55.0,9.05],[56.4,9.10],[55.1,8.90],
  [56.6,8.92],[56.9,9.16],[57.2,9.02],[57.5,8.90],[57.8,9.12],[58.1,8.86],[58.4,9.02],[58.7,9.16],[59.0,8.92],[59.3,9.08],
  [59.6,8.96],[57.1,8.82],[58.3,8.92],[59.5,8.86],
  [61.0,9.16],[61.2,9.14],[61.1,9.06],[61.3,9.02],[61.0,8.97],[61.3,8.92],[61.1,8.88],[60.2,8.90],[60.1,9.00],[60.0,9.10],
  [61.5,9.08],[60.3,9.18],[61.6,8.94],
  [61.7,9.04],[62.0,9.18],[62.3,8.96],[62.6,9.12],[62.9,8.90],[63.2,9.06],[63.5,9.18],[63.8,8.96],[64.1,9.10],[64.4,9.00],
  [62.8,9.16],[64.0,8.88],
  [64.9,9.20],[65.3,9.14],[65.7,9.18],[66.0,9.12],[64.8,8.98],[65.1,8.94],[66.2,9.05],[66.1,8.96],[64.7,9.14],[66.3,9.00],
  [64.6,8.92],[65.9,8.90],[66.4,9.18],
  [66.7,9.18],[67.0,9.04],[67.3,8.96],[67.6,9.12],[67.9,9.00],[68.2,9.10],[68.5,9.16],[68.8,9.00],[69.1,9.12],[69.4,9.06],
  [69.7,9.00],[69.8,9.10],[70.0,9.18],[70.0,9.00],[67.4,9.20],[68.0,8.94]
];

// ---------- chart ----------
const zip = (ts, vs) => ts.map((t, i) => [t, vs[i]]);
const FONT = '"Liberation Serif", "Times New Roman", serif';
const colors = ['#5B9BD5', '#ED7D31', '#A5A5A5', '#FFC000', '#4472C4'];
const axisGray = '#c3c3c3';
const TICK_FS = 23, LEG_FS = 23, TITLE_FS = 26;

function xAxis(gi, min, max, extra) {
  return Object.assign({
    type: 'value', gridIndex: gi, min: min, max: max,
    name: 'Temperature (°C)', nameLocation: 'middle', nameMoveOverlap: false,
    nameTextStyle: {fontFamily: FONT, fontSize: TITLE_FS, color: '#000'},
    axisLine: {show: true, lineStyle: {color: axisGray, width: 2}},
    axisTick: {show: true, inside: true, length: 6, lineStyle: {color: axisGray, width: 2}},
    axisLabel: {fontFamily: FONT, fontSize: TICK_FS, color: '#000', margin: 16},
    splitLine: {show: false}
  }, extra);
}
function yAxis(gi, min, max, interval, gap, margin) {
  return {
    type: 'value', gridIndex: gi, min: min, max: max, interval: interval,
    name: 'Capacitance (pF)', nameLocation: 'middle', nameGap: gap, nameMoveOverlap: false,
    nameTextStyle: {fontFamily: FONT, fontSize: TITLE_FS, color: '#000'},
    axisLine: {show: true, lineStyle: {color: axisGray, width: 2}},
    axisTick: {show: true, inside: true, length: 6, lineStyle: {color: axisGray, width: 2}},
    axisLabel: {fontFamily: FONT, fontSize: TICK_FS, color: '#000', margin: margin, formatter: v => v.toFixed(1)},
    splitLine: {show: false}
  };
}

const bandA = [zip(tA, c10kA).concat(c10kAExtra), zip(tA, c100kA).concat(c100kAExtra),
  zip(tA, c1MA).concat(c1MAExtra), zip(tA, c10MA).concat(c10MAExtra)];
const bandB = [zip(tB, c10kB).concat(c10kBExtra), zip(tB, c100kB).concat(c100kBExtra),
  zip(tB, c1MB).concat(c1MBExtra), zip(tB, c10MB).concat(c10MBExtra)];

const series = [];
[[c1kA.concat(c1kA2)].concat(bandA), [c1kB.concat(c1kB2)].concat(bandB)].forEach((sets, gi) => {
  sets.forEach((d, k) => {
    series.push({
      name: seriesNames[k], type: 'scatter', xAxisIndex: gi, yAxisIndex: gi,
      data: d, symbol: 'circle', symbolSize: k === 0 ? 10 : (k === 1 ? 15 : 14),
      itemStyle: {color: colors[k], opacity: 1}, emphasis: {disabled: true}
    });
  });
});

function legend(name, left, top, size, padLeft, extra) {
  return Object.assign({
    data: [name], left: left, top: top, orient: 'vertical', padding: 0,
    icon: 'circle', itemWidth: size, itemHeight: size,
    textStyle: {fontFamily: FONT, fontSize: LEG_FS, color: '#000', lineHeight: 24, padding: [0, 0, 0, padLeft]}
  }, extra || {});
}

const legends = [
  legend(seriesNames[0], 506, 105, 6, 5),
  legend(seriesNames[1], 504, 138, 10, 3),
  legend(seriesNames[2], 504, 168, 10, 3),
  legend(seriesNames[3], 504, 199, 10, 3),
  legend(seriesNames[4], 504, 231, 10, 3),
  legend(seriesNames[0], 1077, 133, 6, 4),
  legend(seriesNames[1], 1075, 185, 10, 2),
  legend(seriesNames[2], 1075, 203.5, 10, 2, {
    formatter: n => n.replace(' ', '\n'),
    textStyle: {fontFamily: FONT, fontSize: LEG_FS, color: '#000', lineHeight: 29, padding: [29, 0, 0, 2]}
  }),
  legend(seriesNames[3], 1075, 288, 10, 2)
];

const chart = echarts.init(document.getElementById('c'), null, {renderer: 'canvas'});
chart.setOption({
  backgroundColor: '#ffffff',
  animation: false,
  grid: [
    {left: 90, top: 47, width: 406, height: 333, containLabel: false, outerBoundsMode: 'none'},
    {left: 718, top: 25, width: 342, height: 355, containLabel: false, outerBoundsMode: 'none'}
  ],
  xAxis: [
    xAxis(0, 25, 70, {interval: 5, nameGap: 42,
      axisLabel: {fontFamily: FONT, fontSize: TICK_FS, color: '#000', margin: 16, customValues: xTicksA},
      axisTick: {show: true, inside: true, length: 6, lineStyle: {color: axisGray, width: 2}, customValues: xTicksA}}),
    xAxis(1, 20, 70, {interval: 10, nameGap: 54})
  ],
  yAxis: [yAxis(0, 8, 10, 0.5, 56, 22), yAxis(1, 8.2, 9.2, 0.2, 60, 21)],
  legend: legends,
  series: series,
  graphic: [
    {type: 'text', x: 309, y: 480, style: {text: '({b|a})', fontFamily: FONT, fontSize: 24, fill: '#000',
      align: 'center', verticalAlign: 'middle', rich: {b: {fontFamily: FONT, fontSize: 24, fontWeight: 'bold', fill: '#000'}}}},
    {type: 'text', x: 888, y: 480, style: {text: '({b|b})', fontFamily: FONT, fontSize: 24, fill: '#000',
      align: 'center', verticalAlign: 'middle', rich: {b: {fontFamily: FONT, fontSize: 24, fontWeight: 'bold', fill: '#000'}}}}
  ]
});
</script></body></html>
